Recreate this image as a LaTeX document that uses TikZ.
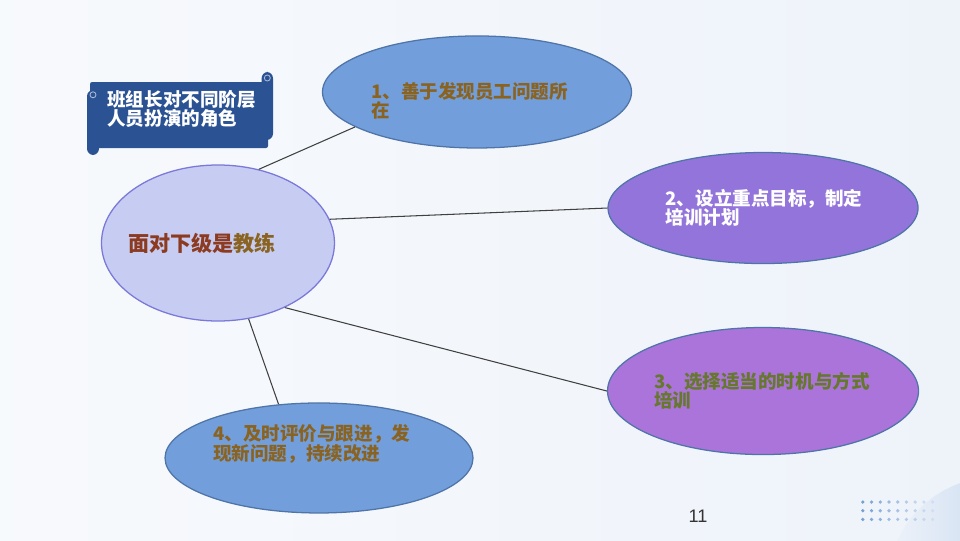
\documentclass[tikz,border=0pt]{standalone}
\usepackage{fontspec}
\setmainfont{Liberation Sans}
\newfontfamily\cjk{Noto Sans CJK SC}
\usetikzlibrary{positioning, shapes.geometric, calc}
\definecolor{bgblue}{HTML}{EEF3FA}
\definecolor{skyfill}{HTML}{729FDB}
\definecolor{skyedge}{HTML}{4F74A8}
\definecolor{violetA}{HTML}{9374DB}
\definecolor{violetB}{HTML}{AA74DB}
\definecolor{hubfill}{HTML}{C6CCF2}
\definecolor{hubedge}{HTML}{7A78D8}
\definecolor{bannerblue}{HTML}{2B5394}
\definecolor{browntxt}{HTML}{8A6321}
\definecolor{olivetxt}{HTML}{66782C}
\definecolor{redtxt}{HTML}{8C3B20}
\definecolor{dotblue}{HTML}{6F9BD4}
\tikzset{
  oval/.style  = {draw=skyedge, ellipse, inner sep=0pt, line width=0.6pt},
  hub/.style   = {oval, draw=hubedge, fill=hubfill},
  txt/.style   = {anchor=west, align=left, inner sep=0pt,
                  font=\cjk\bfseries\fontsize{8.8}{9.2}\selectfont},
  link/.style  = {draw=black!75, line width=0.5pt},
}

\begin{document}
\begin{tikzpicture}[x=1cm, y=1cm]
  % background
  \shade[left color=white!55!bgblue, right color=bgblue] (0,0) rectangle (16,9);
  \useasboundingbox (0,0) rectangle (16,9);
  \begin{scope}
    \clip (0,0) rectangle (16,9);
    \shade[left color=bgblue, right color=dotblue!55!white] (16.6,-0.75) circle (1.8);
  \end{scope}
  \foreach \i in {0,...,8}{
    \foreach \j in {0,1,2}{
      \fill[dotblue, opacity={0.95-0.1*\i}] ({14.38+0.1455*\i},{0.633-0.145*\j}) circle (0.03);
    }
  }

  % banner
  \fill[bannerblue, rounded corners=1pt] (1.5,6.533) rectangle (4.467,7.633);
  \fill[bannerblue, rounded corners=3pt] (4.36,6.667) rectangle (4.55,7.8);
  \fill[bannerblue, rounded corners=3pt] (1.45,6.417) rectangle (1.65,7.5);
  \draw[white!60!bannerblue, line width=0.4pt] (4.455,7.7) circle (0.05);
  \draw[white!60!bannerblue, line width=0.4pt] (1.55,7.42) circle (0.05);
  \node[txt, text=white] (title) at (1.783,7.183) {班组长对不同阶层\\人员扮演的角色};

  % ellipses
  \node[hub, minimum width=3.883cm, minimum height=2.6cm] (coach) at (3.633,4.95) {};
  \node[oval, fill=skyfill, minimum width=5.15cm, minimum height=1.867cm] (find) at (7.95,7.467) {};
  \node[oval, fill=violetA, minimum width=5.167cm, minimum height=1.85cm] (goal) at (12.717,5.533) {};
  \node[oval, fill=violetB, minimum width=5.183cm, minimum height=2.117cm] (timing) at (12.717,2.483) {};
  \node[oval, fill=skyfill, minimum width=5.133cm, minimum height=1.833cm] (review) at (5.317,1.367) {};

  % texts
  \node[txt, font=\cjk\bfseries\fontsize{10}{11}\selectfont] (coachtxt) at ([xshift=-1.5cm]coach.center)
    {\textcolor{redtxt}{面对下级是}\textcolor{browntxt}{教练}};
  \node[txt, text=browntxt] (findtxt) at ([shift={(-1.77,-0.15)}]find.center) {1、善于发现员工问题所\\在};
  \node[txt, text=white] (goaltxt) at ([xshift=-1.63cm]goal.center) {2、设立重点目标，制定\\培训计划};
  \node[txt, text=olivetxt] (timingtxt) at ([xshift=-1.82cm]timing.center) {3、选择适当的时机与方式\\培训};
  \node[txt, text=browntxt] (reviewtxt) at ([shift={(-1.77,0.233)}]review.center) {4、及时评价与跟进，发\\现新问题，持续改进};

  % links
  \draw[link] (coach.61) -- (find.196);
  \draw[link] (coach.12.6) -- (goal.180);
  \draw[link] (coach.316) -- (timing.180);
  \draw[link] (coach.292.6) -- (review.127);

  \node[text=black!80, font=\fontsize{8.6}{10}\selectfont] (page) at (11.633,0.4) {11};
\end{tikzpicture}
\end{document}
